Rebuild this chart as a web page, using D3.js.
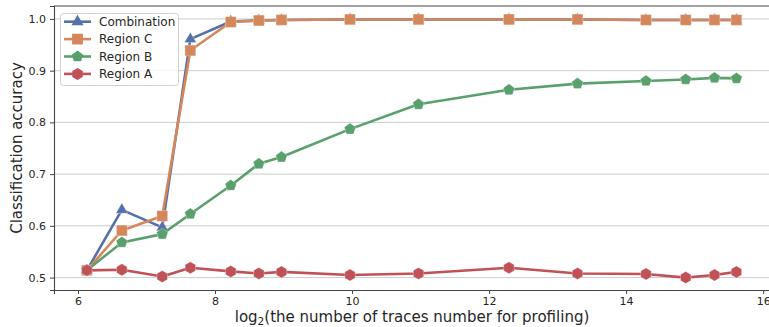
<!DOCTYPE html>
<html>
<head>
<meta charset="utf-8">
<script src="https://cdn.jsdelivr.net/npm/d3@7"></script>
<style>
  html, body { margin: 0; padding: 0; background: #fff; }
  svg { display: block; font-family: "DejaVu Sans", sans-serif; }
</style>
</head>
<body>
<svg id="chart" width="769" height="327"></svg>
<script>
// log2 of the number of profiling traces
const xValues = [6.13, 6.64, 7.23, 7.64, 8.23, 8.64, 8.97, 9.97, 10.97, 12.29, 13.29, 14.29, 14.87, 15.29, 15.61];

const combination = [0.514, 0.631, 0.597, 0.961, 0.995, 0.997, 0.998, 0.999, 0.999, 0.999, 0.999, 0.998, 0.998, 0.998, 0.998];
const regionC     = [0.514, 0.591, 0.619, 0.939, 0.994, 0.997, 0.998, 0.999, 0.999, 0.999, 0.999, 0.998, 0.998, 0.998, 0.998];
const regionB     = [0.514, 0.568, 0.584, 0.623, 0.678, 0.720, 0.733, 0.787, 0.835, 0.863, 0.875, 0.880, 0.883, 0.886, 0.885];
const regionA     = [0.514, 0.515, 0.502, 0.519, 0.512, 0.508, 0.511, 0.505, 0.508, 0.519, 0.508, 0.507, 0.500, 0.505, 0.511];

const seriesNames = ["Combination", "Region C", "Region B", "Region A"];
const seriesColors = ["#5471a8", "#d5875c", "#5aa06c", "#c05257"];
const seriesMarkers = ["triangle", "square", "pentagon", "hexagon"];
const seriesValues = [combination, regionC, regionB, regionA];

const xTicks = [6, 8, 10, 12, 14, 16];
const yTicks = [0.5, 0.6, 0.7, 0.8, 0.9, 1.0];

const svg = d3.select("#chart");
const plotLeft = 54, plotRight = 770, plotTop = 6, plotBottom = 290;

const x = d3.scaleLinear().domain([5.65, 16.1]).range([plotLeft, plotRight]);
const y = d3.scaleLinear().domain([0.476, 1.025]).range([plotBottom, plotTop]);

// horizontal grid
svg.append("g")
  .selectAll("line")
  .data(yTicks)
  .join("line")
  .attr("x1", plotLeft).attr("x2", plotRight)
  .attr("y1", d => y(d)).attr("y2", d => y(d))
  .attr("stroke", "#cccccc").attr("stroke-width", 1);

// axes
const xAxis = svg.append("g")
  .attr("transform", `translate(0,${plotBottom})`)
  .call(d3.axisBottom(x).tickValues(xTicks).tickFormat(d3.format("d")).tickSize(4).tickPadding(3));
const yAxis = svg.append("g")
  .attr("transform", `translate(${plotLeft},0)`)
  .call(d3.axisLeft(y).tickValues(yTicks).tickFormat(d3.format(".1f")).tickSize(4).tickPadding(4));

[xAxis, yAxis].forEach(g => {
  g.select(".domain").attr("stroke", "#444").attr("stroke-width", 1.1);
  g.selectAll(".tick line").attr("stroke", "#444");
  g.selectAll(".tick text").attr("fill", "#262626").style("font-size", "11px").style("font-family", "DejaVu Sans, sans-serif");
});

// top spine
svg.append("line")
  .attr("x1", plotLeft).attr("x2", plotRight)
  .attr("y1", plotTop).attr("y2", plotTop)
  .attr("stroke", "#444").attr("stroke-width", 1.1);

// marker shapes
function markerPath(kind, r) {
  if (kind === "square") {
    const s = r * 0.9;
    return `M${-s},${-s}L${s},${-s}L${s},${s}L${-s},${s}Z`;
  }
  let n, rot;
  if (kind === "triangle") { n = 3; rot = -Math.PI / 2; r = r * 1.15; }
  else if (kind === "pentagon") { n = 5; rot = -Math.PI / 2; }
  else { n = 6; rot = -Math.PI / 2; }
  const pts = d3.range(n).map(i => {
    const a = rot + i * 2 * Math.PI / n;
    return [r * Math.cos(a), r * Math.sin(a)];
  });
  return "M" + pts.map(p => p.join(",")).join("L") + "Z";
}

const line = d3.line().x(d => x(d[0])).y(d => y(d[1]));

seriesValues.forEach((vals, i) => {
  const pts = xValues.map((xv, j) => [xv, vals[j]]);
  const g = svg.append("g");
  g.append("path")
    .datum(pts)
    .attr("d", line)
    .attr("fill", "none")
    .attr("stroke", seriesColors[i])
    .attr("stroke-width", 2.6)
    .attr("stroke-linejoin", "round");
  g.selectAll("path.mk")
    .data(pts)
    .join("path")
    .attr("class", "mk")
    .attr("transform", d => `translate(${x(d[0])},${y(d[1])})`)
    .attr("d", markerPath(seriesMarkers[i], 6))
    .attr("fill", seriesColors[i])
    .attr("stroke", "#ffffff")
    .attr("stroke-opacity", 0.5)
    .attr("stroke-width", 0.6);
});

// legend
const lg = svg.append("g");
lg.append("rect")
  .attr("x", 60.5).attr("y", 13.5)
  .attr("width", 118).attr("height", 72)
  .attr("rx", 3)
  .attr("fill", "#ffffff").attr("fill-opacity", 0.85)
  .attr("stroke", "#d0d0d0");
seriesNames.forEach((name, i) => {
  const cy = 21.7 + i * 17.4;
  lg.append("line")
    .attr("x1", 64).attr("x2", 91)
    .attr("y1", cy).attr("y2", cy)
    .attr("stroke", seriesColors[i]).attr("stroke-width", 2.6);
  lg.append("path")
    .attr("transform", `translate(77.5,${cy})`)
    .attr("d", markerPath(seriesMarkers[i], 6))
    .attr("fill", seriesColors[i]);
  lg.append("text")
    .attr("x", 99).attr("y", cy)
    .attr("dy", "0.35em")
    .attr("fill", "#262626")
    .style("font-size", "12px")
    .text(name);
});

// axis labels
const xl = svg.append("text")
  .attr("x", (plotLeft + plotRight) / 2).attr("y", 322)
  .attr("text-anchor", "middle")
  .attr("fill", "#262626")
  .style("font-size", "15px");
xl.append("tspan").text("log");
xl.append("tspan").attr("dy", 3).style("font-size", "10.5px").text("2");
xl.append("tspan").attr("dy", -3).text("(the number of traces number for profiling)");

svg.append("text")
  .attr("transform", `translate(22,${(plotTop + plotBottom) / 2}) rotate(-90)`)
  .attr("text-anchor", "middle")
  .attr("fill", "#262626")
  .style("font-size", "15px")
  .text("Classification accuracy");
</script>
</body>
</html>
